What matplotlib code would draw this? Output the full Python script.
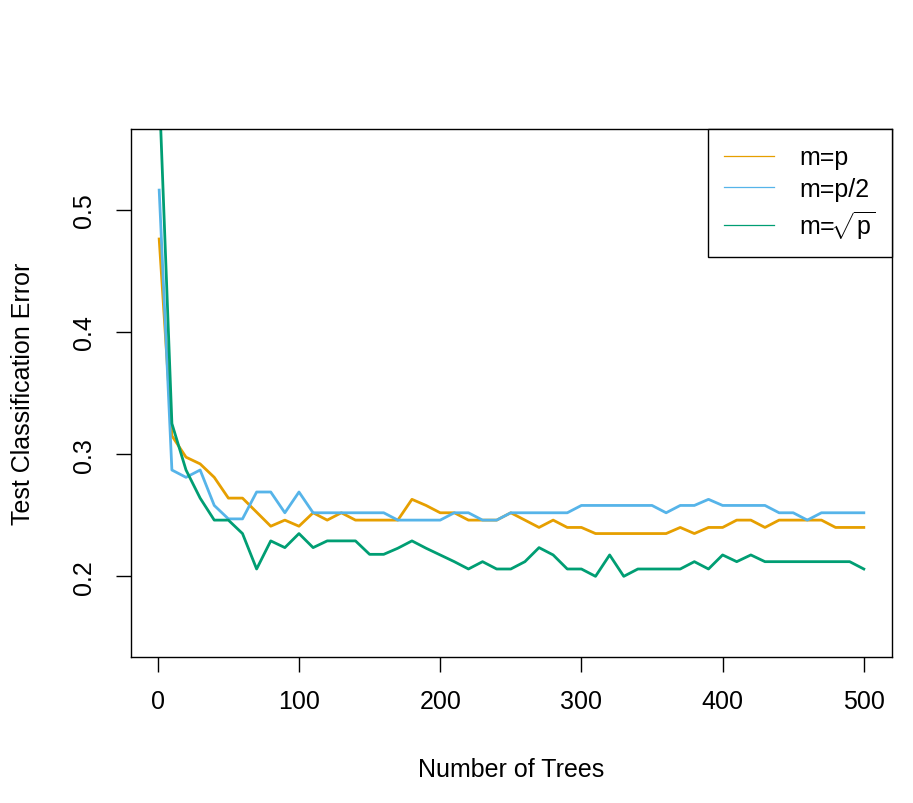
import matplotlib
matplotlib.use('Agg')
import matplotlib.pyplot as plt
from matplotlib.lines import Line2D

# number of trees: 1, 10, 20, ..., 500
trees = [1] + list(range(10, 501, 10))

err_p = [0.476, 0.315, 0.2975, 0.292, 0.281, 0.264, 0.264, 0.2525, 0.241, 0.246,
         0.241, 0.252, 0.246, 0.252, 0.246, 0.246, 0.246, 0.246, 0.263, 0.258,
         0.252, 0.252, 0.246, 0.246, 0.246, 0.252, 0.246, 0.240, 0.246, 0.240,
         0.240, 0.235, 0.235, 0.235, 0.235, 0.235, 0.235, 0.240, 0.235, 0.240,
         0.240, 0.246, 0.246, 0.240, 0.246, 0.246, 0.246, 0.246, 0.240, 0.240,
         0.240]

err_p2 = [0.516, 0.287, 0.281, 0.287, 0.258, 0.247, 0.247, 0.269, 0.269, 0.252,
          0.269, 0.252, 0.252, 0.252, 0.252, 0.252, 0.252, 0.246, 0.246, 0.246,
          0.246, 0.252, 0.252, 0.246, 0.246, 0.252, 0.252, 0.252, 0.252, 0.252,
          0.258, 0.258, 0.258, 0.258, 0.258, 0.258, 0.252, 0.258, 0.258, 0.263,
          0.258, 0.258, 0.258, 0.258, 0.252, 0.252, 0.246, 0.252, 0.252, 0.252,
          0.252]

err_sqrt = [0.600, 0.325, 0.287, 0.264, 0.246, 0.246, 0.235, 0.206, 0.229, 0.2235,
            0.235, 0.2235, 0.229, 0.229, 0.229, 0.218, 0.218, 0.223, 0.229, 0.223,
            0.2175, 0.212, 0.206, 0.212, 0.206, 0.206, 0.212, 0.2235, 0.2175, 0.206,
            0.206, 0.200, 0.2175, 0.200, 0.206, 0.206, 0.206, 0.206, 0.212, 0.206,
            0.2175, 0.212, 0.2175, 0.212, 0.212, 0.212, 0.212, 0.212, 0.212, 0.212,
            0.206]

labels = ["m=p", "m=p/2", r"m=$\!\sqrt{\mathrm{p}}$"]
colors = ["#E69F00", "#56B4E9", "#009E73"]

plt.rcParams['font.family'] = ['Liberation Sans', 'DejaVu Sans']
plt.rcParams['mathtext.fontset'] = 'custom'
plt.rcParams['mathtext.rm'] = 'Liberation Sans'
plt.rcParams['mathtext.it'] = 'Liberation Sans'

fig = plt.figure(figsize=(9.13, 8.04), dpi=100)
ax = fig.add_axes([131 / 913, 146 / 804, 761 / 913, 528 / 804])

for ys, c in zip([err_p, err_p2, err_sqrt], colors):
    ax.plot(trees, ys, color=c, lw=2.0)

ax.set_xlim(-18.96, 519.96)
ax.set_ylim(0.134, 0.566)
ax.set_xticks([0, 100, 200, 300, 400, 500])
ax.set_yticks([0.2, 0.3, 0.4, 0.5])
ax.set_yticklabels(["0.2", "0.3", "0.4", "0.5"])
ax.tick_params(labelsize=18, length=11, width=1, pad=12)
ax.tick_params(axis='y', labelrotation=90, pad=14)
for t in ax.get_yticklabels():
    t.set_va('center')

for s in ax.spines.values():
    s.set_linewidth(1)

ax.set_xlabel("Number of Trees", fontsize=18, labelpad=32)
ax.set_ylabel("Test Classification Error", fontsize=18, labelpad=27)

handles = [Line2D([], [], color=c, lw=0.9) for c in colors]
leg = ax.legend(handles, labels, loc='upper right', fontsize=18, fancybox=False,
                edgecolor='black', framealpha=1, borderaxespad=0, borderpad=0.65,
                handlelength=2.0, handletextpad=1.0, labelspacing=0.3)
leg.get_frame().set_linewidth(1)

plt.savefig("out.png", dpi=100)
plt.close(fig)
